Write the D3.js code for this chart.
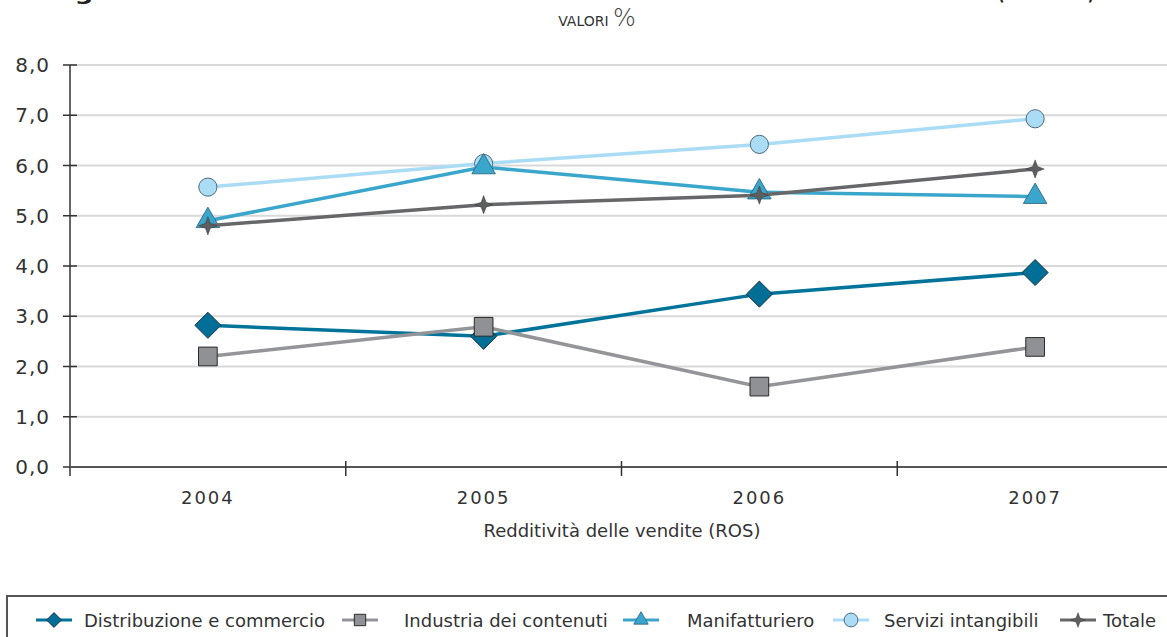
<!DOCTYPE html>
<html>
<head>
<meta charset="utf-8">
<script src="https://cdn.jsdelivr.net/npm/d3@7"></script>
<style>
body{margin:0;background:#fff;}
svg text{font-family:"DejaVu Sans",sans-serif;fill:#333;}
</style>
</head>
<body>
<div id="chart"></div>
<script>
// data
var years=["2004","2005","2006","2007"];
var yTicks=[0,1,2,3,4,5,6,7,8];
var seriesNames=["Distribuzione e commercio","Industria dei contenuti","Manifatturiero","Servizi intangibili","Totale"];
var distribuzione=[2.82,2.6,3.44,3.87];
var industria=[2.2,2.79,1.6,2.39];
var manifatturiero=[4.9,5.97,5.47,5.38];
var servizi=[5.57,6.04,6.42,6.93];
var totale=[4.8,5.22,5.41,5.93];

var width=1167, height=637;
var svg=d3.select("#chart").append("svg")
	.attr("width",width)
	.attr("height",height);

var x=d3.scaleBand().domain(years).range([70,1173]).padding(0);
var y=d3.scaleLinear().domain([0,8]).range([467,65]);

// 4 point star
var star4={
	draw:function(ctx,size){
		var r=Math.sqrt(size)*0.7, ri=r*0.38;
		for(var i=0;i<8;i++){
			var a=i*Math.PI/4-Math.PI/2;
			var rr=(i%2==0)?r:ri;
			if(i==0) ctx.moveTo(rr*Math.cos(a),rr*Math.sin(a));
			else ctx.lineTo(rr*Math.cos(a),rr*Math.sin(a));
		}
		ctx.closePath();
	}
};
// square diamond (rotated square)
var diamond={
	draw:function(ctx,size){
		var r=Math.sqrt(size/2);
		ctx.moveTo(0,-r);
		ctx.lineTo(r,0);
		ctx.lineTo(0,r);
		ctx.lineTo(-r,0);
		ctx.closePath();
	}
};

var series=[
	{name:seriesNames[0],values:distribuzione,line:"#00739a",fill:"#006f98",stroke:"#1d3340",sym:diamond,size:340,sw:1},
	{name:seriesNames[1],values:industria,line:"#939598",fill:"#8f9195",stroke:"#2a2a2a",sym:d3.symbolSquare,size:350,sw:1},
	{name:seriesNames[3],values:servizi,line:"#aadcf5",fill:"#aadcf5",stroke:"#4f6a7a",sym:d3.symbolCircle,size:260,sw:1},
	{name:seriesNames[2],values:manifatturiero,line:"#3aa6cc",fill:"#3aa6cc",stroke:"#245e78",sym:d3.symbolTriangle,size:240,sw:0.8},
	{name:seriesNames[4],values:totale,line:"#666769",fill:"#5d5e60",stroke:"#3a3a3a",sym:star4,size:170,sw:0.5}
];

// title (cut off at top, as in the source)
var title=svg.append("text").attr("y",0)
	.style("font-weight","bold").style("font-size","20px").style("fill","#222");
title.append("tspan").attr("x",48).attr("textLength",900).attr("lengthAdjust","spacingAndGlyphs")
	.text("Fig. 5 - Redditività delle vendite nei settori dell'economia ICT");
title.append("tspan").attr("x",998).attr("textLength",96).attr("lengthAdjust","spacingAndGlyphs")
	.text("(2004-2007)");

var sub=svg.append("text").attr("x",597).attr("y",26).attr("text-anchor","middle");
sub.append("tspan").style("font-size","14px").text("VALORI ");
sub.append("tspan").style("font-size","24px").style("font-weight","300").style("fill","#444").text("%");

// grid
svg.append("g").selectAll("line")
	.data(yTicks.filter(function(d){return d>0;}))
	.enter().append("line")
	.attr("x1",70).attr("x2",width)
	.attr("y1",function(d){return y(d);})
	.attr("y2",function(d){return y(d);})
	.style("stroke","#d9d9d9").style("stroke-width",2);

// y axis
var yAxis=svg.append("g");
yAxis.append("line").attr("x1",70).attr("x2",70).attr("y1",y(8)).attr("y2",476)
	.style("stroke","#333").style("stroke-width",1.5);
yAxis.selectAll(".tk").data(yTicks).enter().append("line")
	.attr("x1",63).attr("x2",77)
	.attr("y1",function(d){return y(d);}).attr("y2",function(d){return y(d);})
	.style("stroke","#333").style("stroke-width",1.5);
yAxis.selectAll("text").data(yTicks).enter().append("text")
	.attr("x",50).attr("y",function(d){return y(d)+7;})
	.attr("text-anchor","end")
	.style("font-size","20px").style("letter-spacing","1px")
	.text(function(d){return d3.format(".1f")(d).replace(".",",");});

// x axis
var xAxis=svg.append("g");
xAxis.append("line").attr("x1",70).attr("x2",width).attr("y1",y(0)).attr("y2",y(0))
	.style("stroke","#555").style("stroke-width",2);
xAxis.selectAll(".tk").data(years.slice(1)).enter().append("line")
	.attr("x1",function(d){return x(d);}).attr("x2",function(d){return x(d);})
	.attr("y1",461).attr("y2",476)
	.style("stroke","#333").style("stroke-width",1.5);
xAxis.selectAll("text").data(years).enter().append("text")
	.attr("x",function(d){return x(d)+x.bandwidth()/2;})
	.attr("y",504).attr("text-anchor","middle")
	.style("font-size","18px").style("letter-spacing","2px")
	.text(function(d){return d;});
svg.append("text").attr("x",622).attr("y",537).attr("text-anchor","middle")
	.style("font-size","18px")
	.text("Redditività delle vendite (ROS)");

// lines and markers
var line=d3.line()
	.x(function(d,i){return x(years[i])+x.bandwidth()/2;})
	.y(function(d){return y(d);});

series.forEach(function(s){
	var g=svg.append("g");
	g.append("path").attr("d",line(s.values))
		.style("fill","none").style("stroke",s.line).style("stroke-width",3.5);
	g.selectAll("path.m").data(s.values).enter().append("path")
		.attr("class","m")
		.attr("transform",function(d,i){return "translate("+(x(years[i])+x.bandwidth()/2)+","+y(d)+")";})
		.attr("d",d3.symbol().type(s.sym).size(s.size))
		.style("fill",s.fill).style("stroke",s.stroke).style("stroke-width",s.sw);
});

// legend
var legend=svg.append("g");
legend.append("rect").attr("x",7).attr("y",596).attr("width",1170).attr("height",60)
	.style("fill","none").style("stroke","#555").style("stroke-width",2);
var legendOrder=[0,1,3,2,4];
var iconX=[54,360,641,851,1078];
var textX=[84,404,687,884,1103];
var legendSize=[110,130,90,150,110];
legendOrder.forEach(function(k,i){
	var s=series[k];
	legend.append("line").attr("x1",iconX[i]-18).attr("x2",iconX[i]+18)
		.attr("y1",620).attr("y2",620)
		.style("stroke",s.line).style("stroke-width",3);
	legend.append("path").attr("transform","translate("+iconX[i]+",620)")
		.attr("d",d3.symbol().type(s.sym).size(legendSize[i]))
		.style("fill",s.fill).style("stroke",s.stroke).style("stroke-width",s.sw);
	legend.append("text").attr("x",textX[i]).attr("y",627)
		.style("font-size","18px").text(s.name);
});
</script>
</body>
</html>
